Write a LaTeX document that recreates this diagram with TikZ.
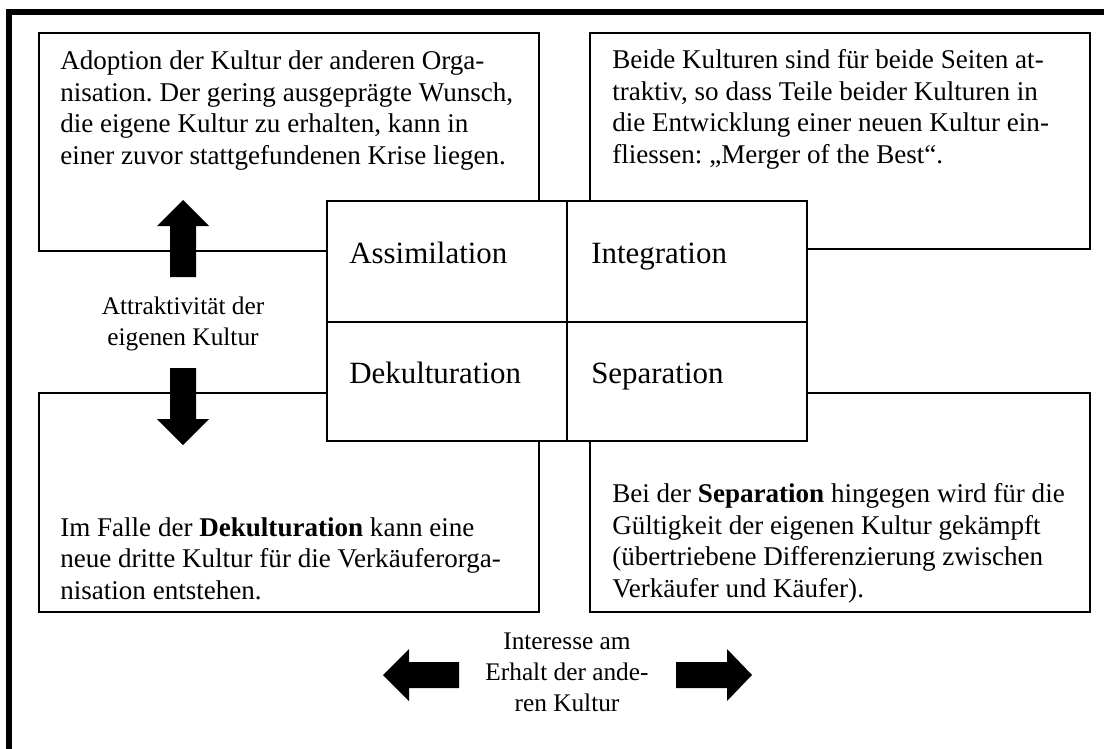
\documentclass[tikz,border=0pt]{standalone}
\usepackage{fontspec}
\setmainfont{Liberation Serif}
\usepackage{tikz}
\usetikzlibrary{positioning}
\frenchspacing

\begin{document}
\begin{tikzpicture}[
    x=0.75pt, y=-0.75pt,
    framebox/.style={
        draw,
        line width=1.2pt
    },
    bodytext/.style={
        inner sep=0pt,
        anchor=base west,
        align=left,
        font=\fontsize{20.3}{23.6}\selectfont
    },
    celltext/.style={
        inner sep=0pt,
        anchor=base west,
        font=\fontsize{23.2}{27}\selectfont
    },
    axistext/.style={
        inner sep=0pt,
        anchor=base,
        align=center,
        font=\fontsize{19}{23}\selectfont
    },
    blockarrow/.style={
        fill=black
    }
]
\useasboundingbox (0,0) rectangle (1104,749);

% Outer frame (top and left only)
\draw[line width=4.5pt] (9,749) -- (9,12) -- (1104,12);

% Corner boxes
\draw[framebox] (39,33) rectangle (539,251);
\draw[framebox] (590,33) rectangle (1090,249);
\draw[framebox] (39,393) rectangle (539,612);
\draw[framebox] (590,393) rectangle (1090,612);

% Texts in the corner boxes (anchored at the last baseline)
\node[bodytext] (adoption) at (60,164) {Adoption der Kultur der anderen Orga-\\nisation. Der gering ausgeprägte Wunsch,\\die eigene Kultur zu erhalten, kann in\\einer zuvor stattgefundenen Krise liegen.};
\node[bodytext] (merger) at (612,163) {Beide Kulturen sind für beide Seiten at-\\traktiv, so dass Teile beider Kulturen in\\die Entwicklung einer neuen Kultur ein-\\fliessen: „Merger of the Best“.};
\node[bodytext] (dekult) at (60,599) {Im Falle der \textbf{Dekulturation} kann eine\\neue dritte Kultur für die Verkäuferorga-\\nisation entstehen.};
\node[bodytext] (separ) at (612,597) {Bei der \textbf{Separation} hingegen wird für die\\Gültigkeit der eigenen Kultur gekämpft\\(übertriebene Differenzierung zwischen\\Verkäufer und Käufer).};

% Center grid
\draw[framebox, fill=white] (327,201) rectangle (807,441);
\draw[framebox] (567,201) -- (567,441);
\draw[framebox] (327,322) -- (807,322);
\node[celltext] (assim) at (349,263) {Assimilation};
\node[celltext] (integ) at (591,263) {Integration};
\node[celltext] (dekul) at (349,383) {Dekulturation};
\node[celltext] (sepa) at (591,383) {Separation};

% Block arrows
\fill[blockarrow] (170,277) -- (170,226) -- (157,226) -- (183,200) -- (209,226) -- (196,226) -- (196,277) -- cycle;
\fill[blockarrow] (170,368) -- (196,368) -- (196,419) -- (209,419) -- (183,445) -- (157,419) -- (170,419) -- cycle;
\fill[blockarrow] (459,662) -- (409,662) -- (409,649) -- (383,675) -- (409,701) -- (409,688) -- (459,688) -- cycle;
\fill[blockarrow] (676,662) -- (727,662) -- (727,649) -- (752,675) -- (727,701) -- (727,688) -- (676,688) -- cycle;

% Axis labels
\node[axistext] (attrakt) at (183,345) {Attraktivität der\\eigenen Kultur};
\node[axistext] (interesse) at (567,711) {Interesse am\\Erhalt der ande-\\ren Kultur};
\end{tikzpicture}
\end{document}
